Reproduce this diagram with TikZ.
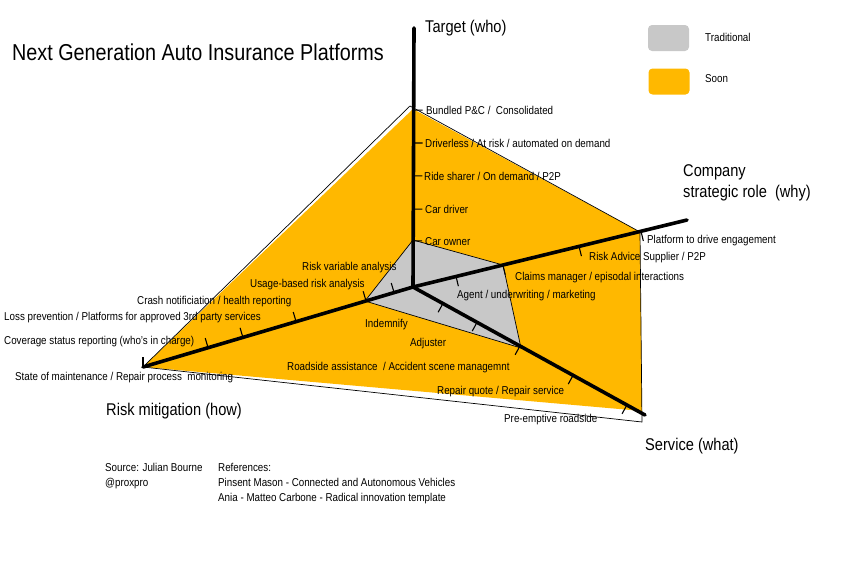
\documentclass[tikz,border=0pt]{standalone}
\usepackage{fontspec}
\setmainfont[FakeStretch=0.86]{Liberation Sans}
\usetikzlibrary{calc}
\definecolor{soonc}{RGB}{255,184,0}
\definecolor{tradc}{RGB}{200,200,200}

\begin{document}
\begin{tikzpicture}[x=1pt, y=-1pt, font=\fontsize{11.4}{15}\selectfont]
  \tikzset{
    lbl/.style={anchor=west, inner sep=0pt},
    ttl/.style={lbl, font=\fontsize{17}{21}\selectfont},
    ax/.style={line width=3.6pt, line cap=round},
    tk/.style={line width=1.1pt},
    rim/.style={line width=0.7pt},
    key/.style={rounded corners=4pt, minimum width=41pt,
                minimum height=26pt, inner sep=0pt},
  }
  \useasboundingbox (0,0) rectangle (864,576);
  % Axis ends
  \coordinate (O) at (413,287);
  \coordinate (T) at (414,28);
  \coordinate (C) at (687,220);
  \coordinate (S) at (645,415);
  \coordinate (R) at (143,367);
  % Soon
  \fill[soonc] (413,109) -- (640,232) -- (642,411) -- (R) -- cycle;
  \draw[rim] (R) -- (410,106) -- (640,232) -- (642,422) -- cycle;
  % Traditional
  \filldraw[rim, fill=tradc] (413,240) -- (503,265) -- (521,348)
    -- (365,301) -- cycle;
  % Axes
  \draw[ax] (O) -- (T); \draw[ax] (O) -- (C);
  \draw[ax] (O) -- (S); \draw[ax] (O) -- (R);
  % Ticks
  \foreach \f in {0.178,0.301,0.429,0.556,0.683} {
    \coordinate (t) at ($(O)!\f!(T)$);
    \draw[tk] (t) -- ($(t)!9pt!-90:(T)$);
  }
  \foreach \f in {0.157,0.328,0.606,0.832} {
    \coordinate (t) at ($(O)!\f!(C)$);
    \draw[tk] (t) -- ($(t)!10pt!-90:(C)$);
  }
  \foreach \f in {0.129,0.276,0.461,0.690,0.922} {
    \coordinate (t) at ($(O)!\f!(S)$);
    \draw[tk] (t) -- ($(t)!10pt!-90:(S)$);
  }
  \foreach \f in {0.070,0.174,0.433,0.630,0.759,1.0} {
    \coordinate (t) at ($(O)!\f!(R)$);
    \draw[tk] (t) -- ($(t)!10pt!-90:(R)$);
  }
  % Target (who)
  \node[ttl] (tW) at (425,28) {Target (who)};
  \node[lbl] (t1) at (426,110) {Bundled P\&C / \ Consolidated};
  \node[lbl] (t2) at (425,143) {Driverless / At risk / automated on demand};
  \node[lbl] (t3) at (424,176) {Ride sharer / On demand / P2P};
  \node[lbl] (t4) at (425,209) {Car driver};
  \node[lbl] (t5) at (425,242) {Car owner};
  % Company strategic role (why)
  \node[ttl, anchor=north west, align=left] (cW) at (683,164)
    {Company\\strategic role \ (why)};
  \node[lbl] (c1) at (457,296) {Agent / underwriting / marketing};
  \node[lbl] (c2) at (515,278) {Claims manager / episodal interactions};
  \node[lbl] (c3) at (589,258) {Risk Advice Supplier / P2P};
  \node[lbl] (c4) at (647,241) {Platform to drive engagement};
  % Service (what)
  \node[ttl] (sW) at (645,446) {Service (what)};
  \node[lbl] (s1) at (365,325) {Indemnify};
  \node[lbl] (s2) at (410,344) {Adjuster};
  \node[lbl] (s3) at (287,368) {Roadside assistance \ / Accident scene managemnt};
  \node[lbl] (s4) at (437,392) {Repair quote / Repair service};
  \node[lbl] (s5) at (504,420) {Pre-emptive roadside};
  % Risk mitigation (how)
  \node[ttl] (rW) at (106,411) {Risk mitigation (how)};
  \node[lbl] (r1) at (302,268) {Risk variable analysis};
  \node[lbl] (r2) at (250,285) {Usage-based risk analysis};
  \node[lbl] (r3) at (137,302) {Crash notificiation / health reporting};
  \node[lbl] (r4) at (4,318)
    {Loss prevention / Platforms for approved 3rd party services};
  \node[lbl] (r5) at (4,342) {Coverage status reporting (who's in charge)};
  \node[lbl] (r6) at (15,378)
    {State of maintenance / Repair process \ monitoring};
  % Title and legend
  \node[lbl, font=\fontsize{23}{27}\selectfont] (title) at (12,52)
    {Next Generation Auto Insurance Platforms};
  \node[key, fill=tradc] (kT) at (668.5,38) {};
  \node[lbl] (kTl) at (705,37) {Traditional};
  \node[key, fill=soonc] (kS) at (669,81.5) {};
  \node[lbl] (kSl) at (705,79) {Soon};
  % Sources
  \node[lbl, anchor=north west, align=left] (src) at (105,463)
    {Source: Julian Bourne\\@proxpro};
  \node[lbl, anchor=north west, align=left] (refs) at (218,463)
    {References:\\Pinsent Mason - Connected and Autonomous Vehicles\\
     Ania - Matteo Carbone - Radical innovation template};
\end{tikzpicture}
\end{document}
